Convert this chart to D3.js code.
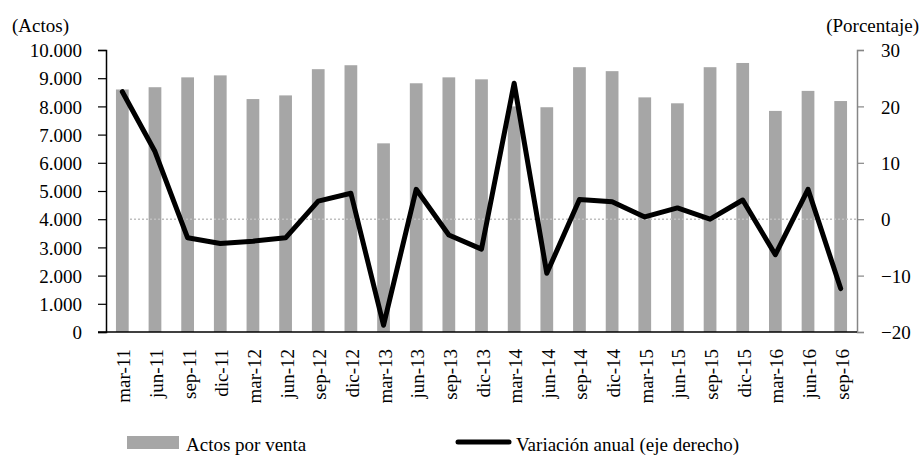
<!DOCTYPE html>
<html><head><meta charset="utf-8">
<script src="https://cdn.jsdelivr.net/npm/d3@7"></script>
<style>
html,body{margin:0;padding:0;background:#fff;}
</style></head>
<body>
<svg id="chart" width="922" height="456"></svg>
<script>
const categories = ["mar-11","jun-11","sep-11","dic-11","mar-12","jun-12","sep-12","dic-12","mar-13","jun-13","sep-13","dic-13","mar-14","jun-14","sep-14","dic-14","mar-15","jun-15","sep-15","dic-15","mar-16","jun-16","sep-16"];
const actosPorVenta = [8600,8680,9030,9100,8260,8390,9320,9460,6690,8820,9030,8960,8000,7970,9390,9250,8320,8110,9390,9540,7840,8550,8190];
const variacionAnual = [22.6,12.0,-3.3,-4.3,-3.9,-3.3,3.2,4.6,-18.8,5.3,-2.8,-5.3,24.1,-9.6,3.5,3.1,0.4,2.0,0.0,3.4,-6.3,5.3,-12.3];
const leftTicks = [0,1000,2000,3000,4000,5000,6000,7000,8000,9000,10000];
const rightTicks = [-20,-10,0,10,20,30];
const seriesNames = ["Actos por venta","Variación anual (eje derecho)"];
const axisTitles = ["(Actos)","(Porcentaje)"];

const FONT = "Liberation Serif";
const FS = 19;
const svg = d3.select("#chart");
const L = 106, R = 857, T = 50, B = 332;

const x = d3.scaleBand().domain(categories).range([L, R]).paddingInner(0.61).paddingOuter(0.305);
const xc = d3.scaleBand().domain(categories).range([L, R]);
const yL = d3.scaleLinear().domain([0,10000]).range([B, T]);
const yR = d3.scaleLinear().domain([-20,30]).range([B, T]);
const loc = d3.formatLocale({decimal:",", thousands:".", grouping:[3], currency:["",""]});
const fmt = loc.format(",d");

function styleText(sel){ return sel.attr("font-family", FONT).attr("font-size", FS).attr("fill", "#000"); }

// bars
svg.append("g").selectAll("rect").data(actosPorVenta).join("rect")
  .attr("x", (d,i) => x(categories[i]))
  .attr("width", x.bandwidth())
  .attr("y", d => yL(d))
  .attr("height", d => yL(0) - yL(d))
  .attr("fill", "#a6a6a6");

// zero reference dotted line
svg.append("line")
  .attr("x1", 130).attr("x2", R)
  .attr("y1", yR(0)).attr("y2", yR(0))
  .attr("stroke", "#c0c0c0").attr("stroke-width", 1.5)
  .attr("stroke-dasharray", "2,2");

function clean(g){ g.attr("font-size", FS).attr("font-family", FONT); styleText(g.selectAll("text")); }

// left axis
const gL = svg.append("g").attr("transform", `translate(${L},0)`)
  .call(d3.axisLeft(yL).tickValues(leftTicks).tickFormat(fmt).tickSize(8).tickPadding(16));
gL.select(".domain").attr("stroke", "#000").attr("stroke-width", 1.5);
gL.selectAll(".tick line").attr("stroke", "#000").attr("stroke-width", 1.2);
gL.selectAll(".tick text").attr("dy", "0.35em");
clean(gL);

// right axis
const gR = svg.append("g").attr("transform", `translate(${R},0)`)
  .call(d3.axisRight(yR).tickValues(rightTicks).tickSize(7).tickPadding(17));
gR.select(".domain").attr("stroke", "#868686").attr("stroke-width", 1.5);
gR.selectAll(".tick line").attr("stroke", "#868686").attr("stroke-width", 1.2);
gR.selectAll(".tick text").attr("dy", "0.35em");
clean(gR);

// bottom axis
const gB = svg.append("g").attr("transform", `translate(0,${B})`)
  .call(d3.axisBottom(xc).tickSize(0).tickPadding(0));
gB.select(".domain").remove();
clean(gB);
gB.selectAll(".tick text")
  .attr("transform", "translate(8,17) rotate(-90)")
  .attr("text-anchor", "end").attr("dy", "0").attr("y", 0).attr("x", 0);
svg.append("line").attr("x1", L - 8).attr("x2", R).attr("y1", B).attr("y2", B)
  .attr("stroke", "#000").attr("stroke-width", 1.5);

// line series
const line = d3.line().x((d,i) => xc(categories[i]) + xc.bandwidth()/2).y(d => yR(d));
svg.append("path").datum(variacionAnual)
  .attr("d", line).attr("fill", "none").attr("stroke", "#000")
  .attr("stroke-width", 5).attr("stroke-linejoin", "round").attr("stroke-linecap", "round");

// axis titles
styleText(svg.append("text").attr("x", 12).attr("y", 32).text(axisTitles[0]));
styleText(svg.append("text").attr("x", 919).attr("y", 32).attr("text-anchor", "end").text(axisTitles[1]));

// legend
const lg = svg.append("g");
lg.append("rect").attr("x", 127).attr("y", 436).attr("width", 52).attr("height", 13).attr("fill", "#a6a6a6");
styleText(lg.append("text").attr("x", 186).attr("y", 451).text(seriesNames[0]));
lg.append("line").attr("x1", 458).attr("x2", 509).attr("y1", 442).attr("y2", 442)
  .attr("stroke", "#000").attr("stroke-width", 5).attr("stroke-linecap", "round");
styleText(lg.append("text").attr("x", 516).attr("y", 451).text(seriesNames[1]));
</script>
</body></html>
